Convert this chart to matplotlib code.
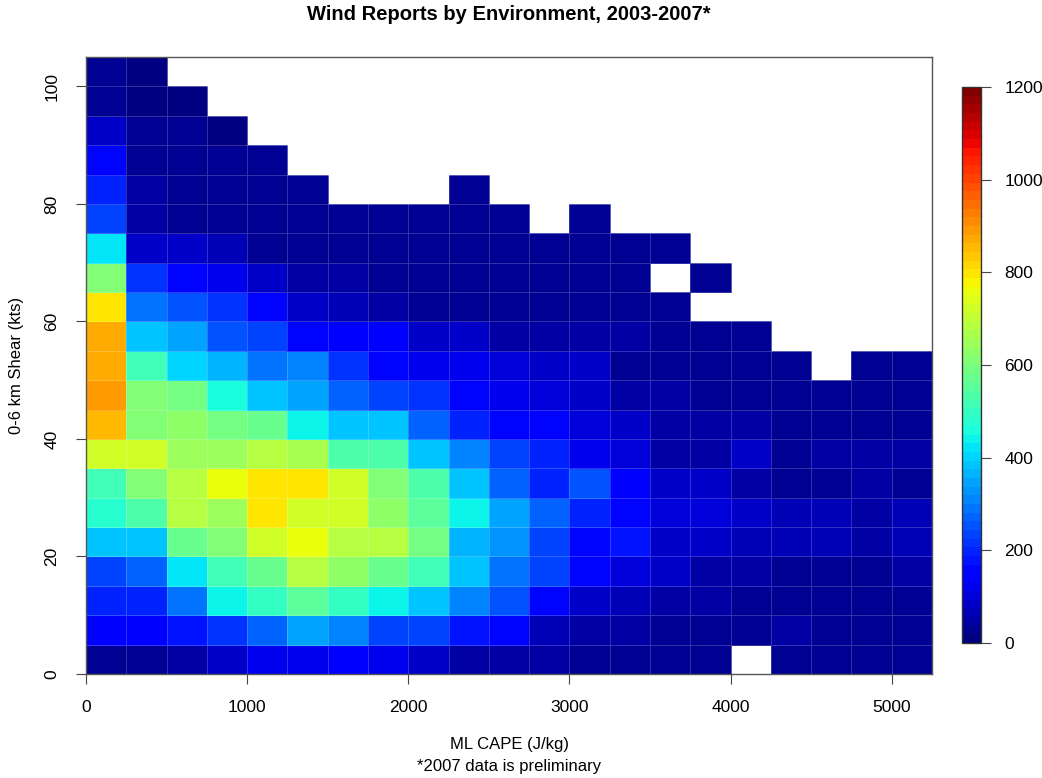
import numpy as np
import matplotlib
matplotlib.use("Agg")
import matplotlib.pyplot as plt

plt.rcParams["font.family"] = ["Liberation Sans", "DejaVu Sans"]

# bin edges: ML CAPE (J/kg) and 0-6 km shear (kts)
cape_edges = list(range(0, 5251, 250))
shear_edges = list(range(0, 106, 5))
x_ticks = [0, 1000, 2000, 3000, 4000, 5000]
y_ticks = [0, 20, 40, 60, 80, 100]
cbar_ticks = [0, 200, 400, 600, 800, 1000, 1200]

N = None
# report counts, one list per shear bin (0-5 kts first), CAPE bins left to right
counts = [
    [20, 20, 45, 75, 120, 120, 140, 120, 90, 50, 50, 40, 25, 35, 35, 30, N, 30, 30, 30, 30],
    [140, 140, 170, 220, 280, 340, 310, 240, 240, 170, 150, 65, 50, 40, 35, 30, 35, 40, 35, 35, 35],
    [190, 200, 285, 440, 490, 550, 490, 440, 375, 310, 250, 150, 90, 60, 40, 40, 35, 35, 35, 35, 35],
    [240, 280, 420, 510, 570, 690, 620, 570, 510, 390, 290, 240, 150, 100, 75, 50, 50, 35, 35, 35, 50],
    [375, 375, 570, 600, 720, 750, 690, 690, 590, 370, 320, 240, 160, 170, 90, 85, 65, 60, 60, 40, 60],
    [480, 540, 675, 640, 800, 720, 720, 620, 550, 440, 340, 270, 190, 150, 100, 100, 90, 65, 65, 40, 60],
    [510, 600, 675, 750, 800, 800, 720, 600, 525, 390, 280, 190, 250, 140, 90, 75, 50, 30, 35, 40, 35],
    [730, 715, 640, 650, 675, 660, 540, 540, 390, 310, 230, 190, 120, 100, 50, 45, 75, 35, 55, 40, 40],
    [850, 600, 620, 590, 570, 440, 380, 380, 270, 200, 150, 160, 100, 75, 50, 40, 55, 35, 35, 35, 35],
    [890, 600, 590, 450, 380, 350, 270, 240, 210, 150, 130, 95, 80, 40, 40, 30, 35, 30, 30, 30, 30],
    [880, 510, 410, 360, 290, 300, 210, 150, 120, 120, 95, 80, 80, 30, 30, 30, 30, 30, N, 25, 25],
    [880, 380, 355, 250, 225, 165, 140, 140, 90, 75, 50, 40, 40, 45, 25, 25, 25, N, N, N, N],
    [800, 290, 260, 210, 150, 90, 65, 55, 35, 35, 35, 25, 25, 25, 25, N, N, N, N, N, N],
    [600, 220, 150, 120, 75, 55, 45, 35, 25, 25, 25, 20, 20, 20, N, 20, N, N, N, N, N],
    [430, 85, 80, 65, 35, 35, 30, 25, 25, 20, 20, 20, 20, 20, 20, N, N, N, N, N, N],
    [230, 55, 30, 20, 25, 20, 20, 20, 25, 25, 25, N, 25, N, N, N, N, N, N, N, N],
    [205, 55, 30, 25, 20, 20, N, N, N, 20, N, N, N, N, N, N, N, N, N, N, N],
    [150, 35, 25, 20, 20, N, N, N, N, N, N, N, N, N, N, N, N, N, N, N, N],
    [75, 20, 20, 15, N, N, N, N, N, N, N, N, N, N, N, N, N, N, N, N, N],
    [20, 15, 15, N, N, N, N, N, N, N, N, N, N, N, N, N, N, N, N, N, N],
    [20, 15, N, N, N, N, N, N, N, N, N, N, N, N, N, N, N, N, N, N, N],
]

z = np.array([[np.nan if v is None else v for v in row] for row in counts], dtype=float)
z = np.ma.masked_invalid(z)

fig = plt.figure(figsize=(10.42, 7.78), dpi=100)
ax = fig.add_axes([86 / 1042, 104 / 778, 846 / 1042, 617 / 778])
cax = fig.add_axes([962 / 1042, 135 / 778, 19 / 1042, 556 / 778])

cmap = plt.get_cmap("jet", 64)
mesh = ax.pcolormesh(cape_edges, shear_edges, z, cmap=cmap, vmin=0, vmax=1200,
                     edgecolors=(1, 1, 1, 0.2), linewidth=0.6)

ax.set_xlim(0, 5250)
ax.set_ylim(0, 105)
ax.set_xticks(x_ticks)
ax.set_yticks(y_ticks)
ax.set_yticklabels([str(v) for v in y_ticks], rotation=90, va="center")
ax.tick_params(direction="out", length=7, width=0.8, pad=12, labelsize=12.5, color="#444444")
for s in ax.spines.values():
    s.set_color("#555555")
    s.set_linewidth(1.0)

cb = fig.colorbar(mesh, cax=cax, ticks=cbar_ticks)
cb.outline.set_linewidth(1.0)
cb.outline.set_edgecolor("#333333")
cax.tick_params(direction="out", length=7, width=0.8, pad=10, labelsize=12.5, color="#444444")

fig.text(509 / 1042, 1 - 15 / 778, "Wind Reports by Environment, 2003-2007*",
         ha="center", va="center", fontsize=14.5, fontweight="bold")
fig.text(509 / 1042, 1 - 745 / 778, "ML CAPE (J/kg)", ha="center", va="center", fontsize=12)
fig.text(509 / 1042, 1 - 766 / 778, "*2007 data is preliminary", ha="center", va="center", fontsize=12)
fig.text(17 / 1042, 1 - 365 / 778, "0-6 km Shear (kts)", ha="center", va="center",
         rotation=90, fontsize=12)

fig.savefig("out.png", dpi=100)
